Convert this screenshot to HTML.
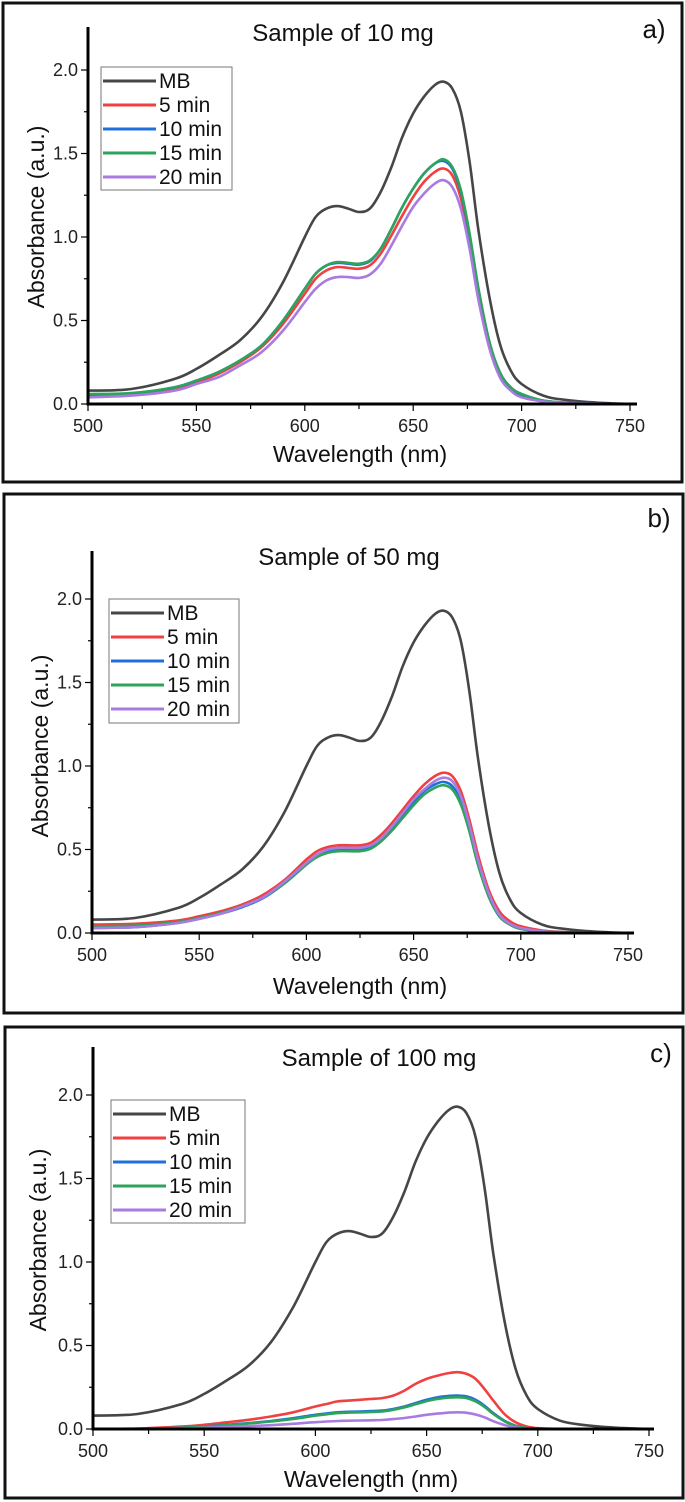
<!DOCTYPE html>
<html><head><meta charset="utf-8">
<style>
html,body{margin:0;padding:0;background:#fff;}
svg{display:block;font-family:"Liberation Sans",Arial,sans-serif;}
</style></head>
<body>
<svg id="fig" width="685" height="1502" viewBox="0 0 685 1502" xmlns="http://www.w3.org/2000/svg"></svg>
<script>
const wavelengths=[500,520,540,550,560,570,580,590,600,605,610,615,620,625,630,635,640,645,650,655,660,664,668,672,676,680,685,690,695,700,710,720,735,750];
const seriesNames=["MB","5 min","10 min","15 min","20 min"];
const xTicks=[500,550,600,650,700,750];
const yTicks=[0.0,0.5,1.0,1.5,2.0];
const yTickLabels=["0.0","0.5","1.0","1.5","2.0"];
const mbValues=[0.08,0.09,0.15,0.21,0.29,0.38,0.52,0.73,1.00,1.12,1.17,1.185,1.17,1.15,1.17,1.27,1.42,1.60,1.74,1.84,1.91,1.93,1.89,1.75,1.45,1.05,0.65,0.36,0.20,0.12,0.05,0.025,0.008,0];
const a5=[0.05,0.06,0.09,0.13,0.18,0.25,0.34,0.48,0.66,0.75,0.80,0.82,0.815,0.81,0.83,0.90,1.01,1.13,1.24,1.33,1.39,1.41,1.37,1.23,0.98,0.66,0.36,0.18,0.09,0.05,0.02,0.008,0.002,0];
const a10=[0.055,0.062,0.10,0.14,0.19,0.26,0.35,0.50,0.69,0.78,0.83,0.845,0.84,0.835,0.855,0.93,1.05,1.18,1.29,1.38,1.44,1.455,1.41,1.27,1.01,0.69,0.37,0.18,0.09,0.05,0.02,0.008,0.002,0];
const a15=[0.06,0.065,0.10,0.14,0.19,0.26,0.35,0.50,0.69,0.78,0.83,0.85,0.845,0.84,0.86,0.93,1.05,1.18,1.29,1.38,1.44,1.465,1.42,1.28,1.02,0.70,0.38,0.19,0.10,0.06,0.02,0.008,0.002,0];
const a20=[0.04,0.05,0.08,0.12,0.16,0.23,0.31,0.44,0.61,0.69,0.74,0.76,0.76,0.755,0.775,0.84,0.95,1.07,1.18,1.26,1.32,1.34,1.30,1.17,0.93,0.63,0.34,0.16,0.08,0.04,0.015,0.006,0.002,0];
const b5=[0.05,0.055,0.075,0.10,0.13,0.17,0.23,0.32,0.44,0.49,0.515,0.525,0.525,0.525,0.54,0.59,0.66,0.74,0.82,0.89,0.94,0.96,0.94,0.85,0.68,0.47,0.26,0.13,0.07,0.04,0.015,0.006,0.002,0];
const b10=[0.03,0.035,0.06,0.085,0.115,0.155,0.21,0.30,0.41,0.46,0.49,0.50,0.50,0.50,0.515,0.56,0.63,0.70,0.78,0.85,0.89,0.905,0.88,0.79,0.62,0.42,0.22,0.10,0.05,0.025,0.01,0.004,0.001,0];
const b15=[0.04,0.045,0.065,0.09,0.12,0.16,0.215,0.30,0.41,0.455,0.48,0.49,0.49,0.49,0.505,0.55,0.615,0.69,0.765,0.83,0.87,0.885,0.86,0.77,0.61,0.41,0.22,0.10,0.05,0.025,0.01,0.004,0.001,0];
const b20=[0.03,0.035,0.06,0.085,0.115,0.16,0.215,0.31,0.42,0.47,0.50,0.51,0.51,0.51,0.525,0.57,0.64,0.72,0.80,0.86,0.91,0.93,0.91,0.82,0.65,0.44,0.24,0.11,0.055,0.03,0.01,0.004,0.001,0];
const c5=[0,0.003,0.015,0.025,0.04,0.055,0.075,0.10,0.135,0.15,0.165,0.17,0.175,0.18,0.185,0.20,0.23,0.27,0.30,0.32,0.335,0.34,0.33,0.30,0.24,0.17,0.09,0.04,0.015,0.005,0,0,0,0];
const c10=[0,0,0.008,0.015,0.025,0.035,0.048,0.065,0.085,0.093,0.10,0.103,0.105,0.107,0.11,0.12,0.135,0.155,0.175,0.19,0.198,0.20,0.195,0.175,0.14,0.095,0.05,0.02,0.005,0,0,0,0,0];
const c15=[0,0,0.007,0.014,0.023,0.033,0.045,0.06,0.08,0.088,0.095,0.098,0.10,0.102,0.105,0.115,0.13,0.148,0.167,0.18,0.188,0.19,0.185,0.166,0.133,0.09,0.047,0.018,0.005,0,0,0,0,0];
const c20=[0,0,0.003,0.007,0.012,0.017,0.023,0.031,0.041,0.045,0.048,0.05,0.051,0.052,0.054,0.059,0.066,0.075,0.085,0.092,0.098,0.10,0.097,0.087,0.07,0.047,0.024,0.009,0.002,0,0,0,0,0];

const colors=["#464646","#f04040","#2070dc","#2ea35c","#a97ae0"];
const panels=[
 {id:"a",title:"Sample of 10 mg",frame:[3,3,679,479],x0:88,x1:630,xEnd:637,y0:404,unit:167,yTop:27,titleX:343,titleY:41,lblX:654,lblY:38,leg:[101,67,131,123],ylabX:36,ylabY:217,xlabX:360,xlabY:462,series:[mbValues,a5,a10,a15,a20]},
 {id:"b",title:"Sample of 50 mg",frame:[4,494,679,519],x0:92,x1:628,xEnd:634,y0:933,unit:167,yTop:551,titleX:349,titleY:565,lblX:659,lblY:527,leg:[109,599,130,124],ylabX:40,ylabY:746,xlabX:360,xlabY:994,series:[mbValues,b5,b10,b15,b20]},
 {id:"c",title:"Sample of 100 mg",frame:[5,1027,678,471],x0:93,x1:649,xEnd:654,y0:1429,unit:167,yTop:1047,titleX:379,titleY:1066,lblX:661,lblY:1062,leg:[111,1100,134,123],ylabX:38,ylabY:1240,xlabX:371,xlabY:1487,series:[mbValues,c5,c10,c15,c20]}
];
const NS="http://www.w3.org/2000/svg";
const svg=document.getElementById("fig");
function mk(tag,attrs,parent){const e=document.createElementNS(NS,tag);for(const k in attrs)e.setAttribute(k,attrs[k]);parent.appendChild(e);return e;}
function smooth(pts){let d="M"+pts[0][0].toFixed(1)+","+pts[0][1].toFixed(1);
 for(let i=0;i<pts.length-1;i++){const p0=pts[Math.max(0,i-1)],p1=pts[i],p2=pts[i+1],p3=pts[Math.min(pts.length-1,i+2)];
 const c1=[p1[0]+(p2[0]-p0[0])/6,p1[1]+(p2[1]-p0[1])/6],c2=[p2[0]-(p3[0]-p1[0])/6,p2[1]-(p3[1]-p1[1])/6];
 d+="C"+c1[0].toFixed(1)+","+c1[1].toFixed(1)+" "+c2[0].toFixed(1)+","+c2[1].toFixed(1)+" "+p2[0].toFixed(1)+","+p2[1].toFixed(1);}
 return d;}
panels.forEach(p=>{
 const g=mk("g",{},svg);
 
 
 const xs=v=>p.x0+(v-500)/250*(p.x1-p.x0);
 const ys=v=>p.y0-v*p.unit;
 const fr=mk("rect",{x:p.frame[0],y:p.frame[1],width:p.frame[2],height:p.frame[3],fill:"none",stroke:"#111","stroke-width":3},g);
 
 
 p.series.forEach((vals,si)=>{
  const pts=wavelengths.map((w,i)=>[xs(w),ys(vals[i])]);
  const path=mk("path",{d:smooth(pts),fill:"none",stroke:colors[si],"stroke-width":2.6,"stroke-linejoin":"round"},g);
  
  
 });
 const ax=mk("line",{x1:p.x0,y1:p.y0,x2:p.xEnd,y2:p.y0,stroke:"#000","stroke-width":3},g);
 
 
 const ay=mk("line",{x1:p.x0,y1:p.y0+1.5,x2:p.x0,y2:p.yTop,stroke:"#000","stroke-width":3},g);
 
 
 for(let v=500;v<=750;v+=25){const major=(v%50===0);
  const t=mk("line",{x1:xs(v),y1:p.y0,x2:xs(v),y2:p.y0+(major?7:5),stroke:"#000","stroke-width":1.2},g);
  
  }
 xTicks.forEach(v=>{const t=mk("text",{x:xs(v),y:p.y0+28,"text-anchor":"middle","font-size":18,fill:"#222"},g);t.textContent=String(v);
  
  });
 for(let k=0;k<=8;k++){const v=k*0.25;const major=(k%2===0);
  const t=mk("line",{x1:p.x0,y1:ys(v),x2:p.x0-(major?7:4),y2:ys(v),stroke:"#000","stroke-width":1.2},g);
  
  }
 yTicks.forEach((v,i)=>{const t=mk("text",{x:p.x0-10,y:ys(v)+6,"text-anchor":"end","font-size":18,fill:"#222"},g);t.textContent=yTickLabels[i];
  
  });
 const tt=mk("text",{x:p.titleX,y:p.titleY,"text-anchor":"middle","font-size":24,fill:"#111"},g);tt.textContent=p.title;
 
 
 const pl=mk("text",{x:p.lblX,y:p.lblY,"text-anchor":"middle","font-size":26,fill:"#111"},g);pl.textContent=p.id+")";
 
 
 const xl=mk("text",{x:p.xlabX,y:p.xlabY,"text-anchor":"middle","font-size":23,fill:"#111"},g);xl.textContent="Wavelength (nm)";
 
 
 const yl=mk("text",{x:p.ylabX,y:p.ylabY,"text-anchor":"middle","font-size":23,fill:"#111",transform:"rotate(-90 "+(p.ylabX)+" "+p.ylabY+")",dy:8},g);yl.textContent="Absorbance (a.u.)";
 
 
 const lg=mk("g",{},g);
 
 
 const [lx,ly,lw,lh]=p.leg;
 mk("rect",{x:lx,y:ly,width:lw,height:lh,fill:"#fff",stroke:"#777","stroke-width":1},lg);
 seriesNames.forEach((n,i)=>{const cy=ly+14+i*24;
  const e=mk("g",{},lg);
  
  
  mk("line",{x1:lx+2,y1:cy,x2:lx+55,y2:cy,stroke:colors[i],"stroke-width":3},e);
  const t=mk("text",{x:lx+58,y:cy+7,"font-size":21,fill:"#111"},e);t.textContent=n;});
});
</script>
</body></html>
